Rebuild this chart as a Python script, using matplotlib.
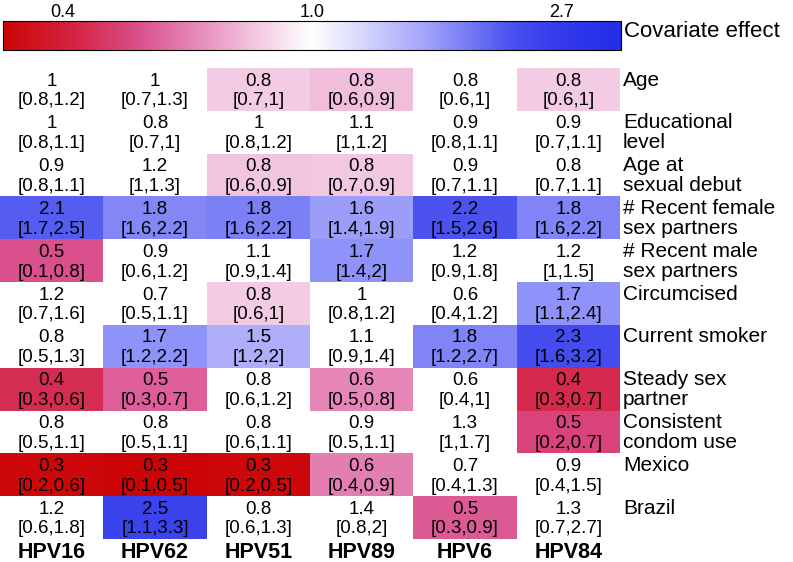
import numpy as np
import matplotlib
matplotlib.use("Agg")
import matplotlib.pyplot as plt
from matplotlib.colors import LinearSegmentedColormap, Normalize
from matplotlib.cm import ScalarMappable

plt.rcParams['font.family'] = ['Liberation Sans', 'DejaVu Sans']

# ---------------- data ----------------
hpv_types = ["HPV16", "HPV62", "HPV51", "HPV89", "HPV6", "HPV84"]
covariates = ["Age", "Educational\nlevel", "Age at\nsexual debut",
              "# Recent female\nsex partners", "# Recent male\nsex partners",
              "Circumcised", "Current smoker", "Steady sex\npartner",
              "Consistent\ncondom use", "Mexico", "Brazil"]

# point estimates (estimated to 2 decimals from shading, shown rounded to 1)
effect = np.array([
    [1.00, 1.00, 0.81, 0.77, 0.80, 0.81],
    [1.00, 0.80, 1.00, 1.10, 0.90, 0.90],
    [0.90, 1.20, 0.79, 0.80, 0.90, 0.80],
    [2.12, 1.78, 1.83, 1.62, 2.20, 1.80],
    [0.50, 0.90, 1.10, 1.70, 1.20, 1.20],
    [1.20, 0.70, 0.81, 1.00, 0.60, 1.70],
    [0.80, 1.70, 1.50, 1.10, 1.80, 2.30],
    [0.41, 0.53, 0.80, 0.62, 0.60, 0.40],
    [0.80, 0.80, 0.80, 0.90, 1.30, 0.47],
    [0.30, 0.29, 0.30, 0.60, 0.70, 0.90],
    [1.20, 2.50, 0.80, 1.40, 0.52, 1.30],
])
ci_low = np.array([
    [0.8, 0.7, 0.7, 0.6, 0.6, 0.6],
    [0.8, 0.7, 0.8, 1.0, 0.8, 0.7],
    [0.8, 1.0, 0.6, 0.7, 0.7, 0.7],
    [1.7, 1.6, 1.6, 1.4, 1.5, 1.6],
    [0.1, 0.6, 0.9, 1.4, 0.9, 1.0],
    [0.7, 0.5, 0.6, 0.8, 0.4, 1.1],
    [0.5, 1.2, 1.2, 0.9, 1.2, 1.6],
    [0.3, 0.3, 0.6, 0.5, 0.4, 0.3],
    [0.5, 0.5, 0.6, 0.5, 1.0, 0.2],
    [0.2, 0.1, 0.2, 0.4, 0.4, 0.4],
    [0.6, 1.1, 0.6, 0.8, 0.3, 0.7],
])
ci_high = np.array([
    [1.2, 1.3, 1.0, 0.9, 1.0, 1.0],
    [1.1, 1.0, 1.2, 1.2, 1.1, 1.1],
    [1.1, 1.3, 0.9, 0.9, 1.1, 1.1],
    [2.5, 2.2, 2.2, 1.9, 2.6, 2.2],
    [0.8, 1.2, 1.4, 2.0, 1.8, 1.5],
    [1.6, 1.1, 1.0, 1.2, 1.2, 2.4],
    [1.3, 2.2, 2.0, 1.4, 2.7, 3.2],
    [0.6, 0.7, 1.2, 0.8, 1.0, 0.7],
    [1.1, 1.1, 1.1, 1.1, 1.7, 0.7],
    [0.6, 0.5, 0.5, 0.9, 1.3, 1.5],
    [1.8, 3.3, 1.3, 2.0, 0.9, 2.7],
])
significant = np.array([
    [0, 0, 1, 1, 0, 1],
    [0, 0, 0, 0, 0, 0],
    [0, 0, 1, 1, 0, 0],
    [1, 1, 1, 1, 1, 1],
    [1, 0, 0, 1, 0, 0],
    [0, 0, 1, 0, 0, 1],
    [0, 1, 1, 0, 1, 1],
    [1, 1, 0, 1, 0, 1],
    [0, 0, 0, 0, 0, 1],
    [1, 1, 1, 1, 0, 0],
    [0, 1, 0, 0, 1, 0],
], dtype=bool)
cbar_ticks_log = [-1, 0, 1]

# ---------------- style ----------------
nodes = [
    (0.00, (203, 5, 5)),
    (0.12, (212, 38, 70)),
    (0.22, (218, 80, 140)),
    (0.30, (228, 130, 180)),
    (0.41, (242, 200, 225)),
    (0.50, (255, 255, 255)),
    (0.60, (205, 205, 252)),
    (0.68, (165, 165, 250)),
    (0.75, (120, 125, 245)),
    (0.82, (75, 82, 238)),
    (0.90, (50, 58, 235)),
    (1.00, (35, 45, 230)),
]
cmap = LinearSegmentedColormap.from_list(
    "rwb", [(p, tuple(c / 255 for c in rgb)) for p, rgb in nodes])

log_eff = np.log(effect)
L = np.max(np.abs(log_eff))
norm = Normalize(-L, L)

W, H = 793, 562
fig = plt.figure(figsize=(W / 100, H / 100), dpi=100)

FS_CELL = 13.5
FS_LAB = 15
nrow, ncol = effect.shape
Y1, Y2 = 0.41, 0.87   # baselines of the two text lines inside a row

# heatmap axes
left_px, right_px, top_px, bot_px = 0, 620, 68, 539
ax = fig.add_axes([left_px / W, 1 - bot_px / H, (right_px - left_px) / W,
                   (bot_px - top_px) / H])
masked = np.ma.masked_where(~significant, log_eff)
ax.pcolormesh(np.arange(ncol + 1), np.arange(nrow + 1), masked,
              cmap=cmap, norm=norm, edgecolors='none', antialiased=False)
ax.set_xlim(0, ncol)
ax.set_ylim(nrow, 0)
ax.axis('off')


def fmt(v):
    return f"{round(v, 1):g}"


for i in range(nrow):
    for j in range(ncol):
        ax.text(j + 0.5, i + Y1, fmt(effect[i, j]), ha='center',
                va='baseline', fontsize=FS_CELL, color='black')
        ax.text(j + 0.5, i + Y2,
                f"[{fmt(ci_low[i, j])},{fmt(ci_high[i, j])}]",
                ha='center', va='baseline', fontsize=FS_CELL, color='black')
    for k, line in enumerate(covariates[i].split("\n")):
        ax.text(ncol + 0.03, i + (Y1 if k == 0 else Y2), line,
                ha='left', va='baseline', fontsize=FS_LAB, clip_on=False)

for j, name in enumerate(hpv_types):
    ax.text(j + 0.5, nrow + 0.45, name, ha='center', va='baseline',
            fontsize=15.5, fontweight='bold', clip_on=False)

# colorbar
cax = fig.add_axes([3 / W, 1 - 50 / H, 618 / W, 29 / H])
sm = ScalarMappable(norm=norm, cmap=cmap)
cb = fig.colorbar(sm, cax=cax, orientation='horizontal', ticks=cbar_ticks_log)
cb.ax.xaxis.set_ticks_position('top')
cb.ax.set_xticklabels([f"{np.exp(t):.1f}" for t in cbar_ticks_log])
cb.ax.tick_params(length=0, pad=0, labelsize=13)
cb.outline.set_linewidth(0.8)
fig.text(624 / W, 1 - 37 / H, "Covariate effect", ha='left', va='baseline',
         fontsize=16)

fig.savefig("out.png", dpi=100)
